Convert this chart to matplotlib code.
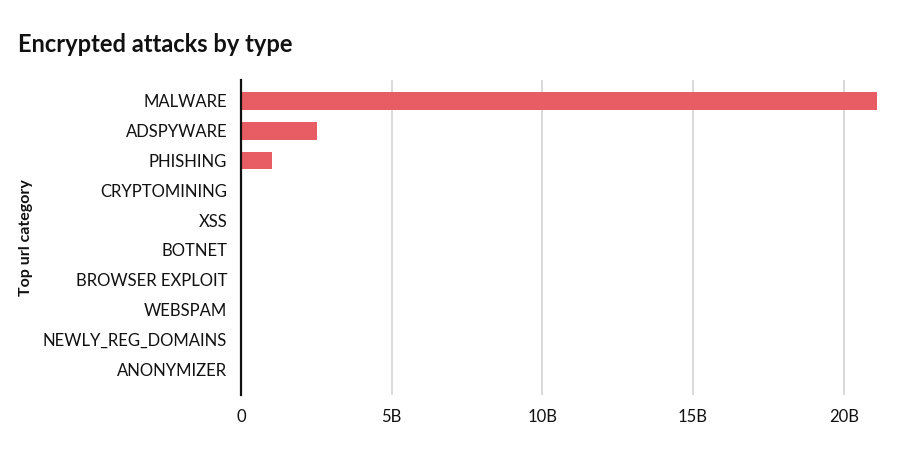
import matplotlib
matplotlib.use("Agg")
import matplotlib.pyplot as plt

categories = ["MALWARE", "ADSPYWARE", "PHISHING", "CRYPTOMINING", "XSS", "BOTNET",
              "BROWSER EXPLOIT", "WEBSPAM", "NEWLY_REG_DOMAINS", "ANONYMIZER"]
values = [21.1e9, 2.52e9, 1.03e9, 0, 0, 0, 0, 0, 0, 0]
x_ticks = [0, 5e9, 10e9, 15e9, 20e9]
x_tick_labels = ["0", "5B", "10B", "15B", "20B"]

plt.rcParams['font.family'] = ['Lato', 'DejaVu Sans']

W, H = 917, 451
fig = plt.figure(figsize=(W / 100, H / 100), dpi=100)
fig.patch.set_facecolor("white")

left, right, top, bottom = 241, 904, 80, 395
ax = fig.add_axes([left / W, 1 - bottom / H, (right - left) / W, (bottom - top) / H])

ypos = list(range(len(categories)))
ax.barh(ypos, values, height=0.6, color="#e85d63", zorder=3)

ax.set_xlim(0, 22e9)
ax.set_ylim(9.87, -0.7)
ax.set_yticks(ypos)
ax.set_yticklabels(categories, fontsize=12, color="#111111")
ax.set_xticks(x_ticks)
ax.set_xticklabels(x_tick_labels, fontsize=12, color="#111111")
ax.tick_params(axis="both", length=0)
ax.tick_params(axis="y", pad=10)
ax.tick_params(axis="x", pad=10)

ax.grid(axis="x", color="#d3d3d3", linewidth=1.2, zorder=0)
for s in ["top", "right", "bottom"]:
    ax.spines[s].set_visible(False)
ax.spines["left"].set_color("#111111")
ax.spines["left"].set_linewidth(1.6)
ax.spines["left"].set_zorder(4)

fig.text(18 / W, 1 - 44 / H, "Encrypted attacks by type", fontsize=17,
         fontweight="bold", color="#111111", va="center", ha="left")
fig.text(26 / W, 1 - 238 / H, "Top url category", fontsize=11.5, fontweight="bold",
         color="#111111", rotation=90, va="center", ha="center")

fig.savefig("out.png", dpi=100, facecolor="white")
